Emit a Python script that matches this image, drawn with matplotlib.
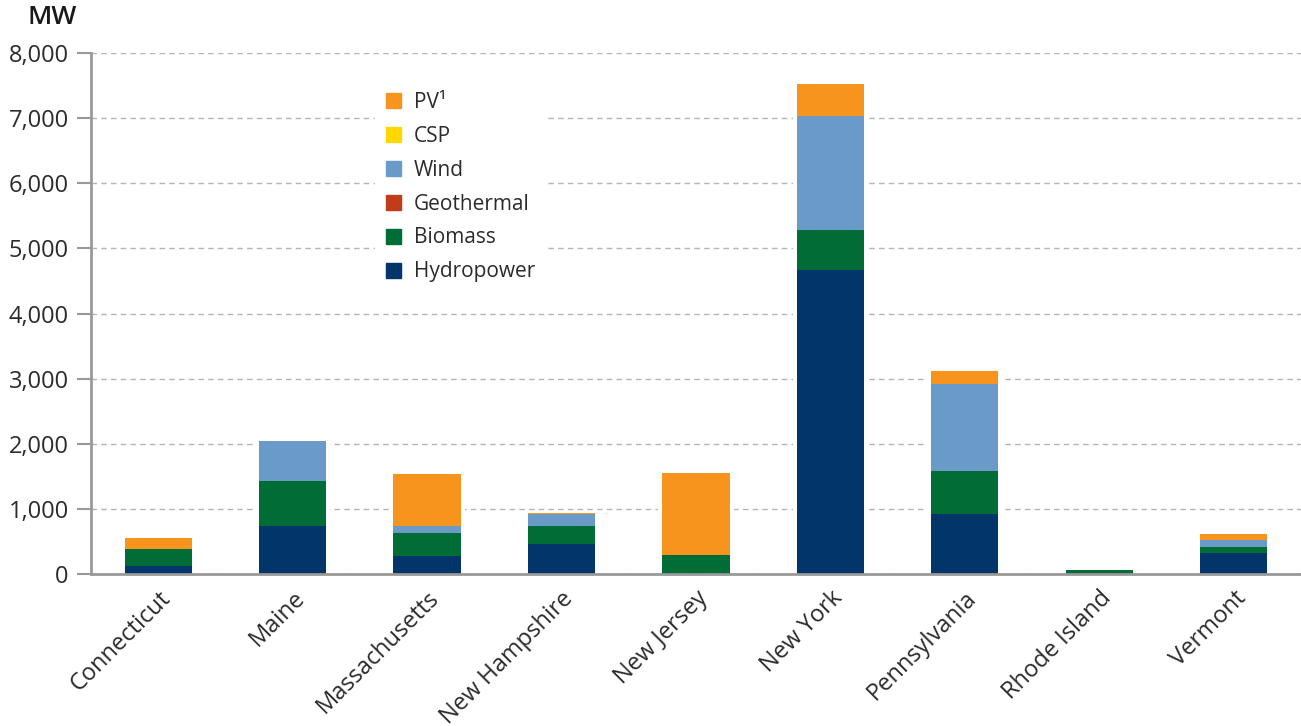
import matplotlib.pyplot as plt
from matplotlib.patches import Patch
import numpy as np

plt.rcParams['font.family'] = ['Open Sans', 'DejaVu Sans']

# Installed capacity by state (MW)
states = ['Connecticut', 'Maine', 'Massachusetts', 'New Hampshire', 'New Jersey',
          'New York', 'Pennsylvania', 'Rhode Island', 'Vermont']
hydro = [123, 738, 277, 462, 15, 4670, 923, 10, 323]
biomass = [262, 693, 354, 276, 277, 614, 662, 50, 92]
geothermal = [0, 0, 0, 0, 0, 0, 0, 0, 0]
wind = [0, 615, 107, 185, 0, 1756, 1333, 0, 113]
csp = [0, 0, 0, 0, 0, 0, 0, 0, 0]
pv = [169, 0, 800, 15, 1262, 487, 200, 0, 87]

series = [('Hydropower', hydro, '#02366a'),
          ('Biomass', biomass, '#006d36'),
          ('Geothermal', geothermal, '#c23b1a'),
          ('Wind', wind, '#6a9bc8'),
          ('CSP', csp, '#ffd800'),
          ('PV¹', pv, '#f7941d')]

fig = plt.figure(figsize=(13.01, 7.26), dpi=100)
ax = fig.add_axes([91 / 1301, 152 / 726, 1210 / 1301, 521 / 726])

x = np.arange(len(states))
width = 0.5
total = np.sum([s[1] for s in series], axis=0)

# white backing so the grid stops a little short of each bar
ax.bar(x, total, width=width + 0.06, color='white', zorder=2)

bottom = np.zeros(len(states))
for name, vals, col in series:
    ax.bar(x, vals, width=width, bottom=bottom, color=col, zorder=3)
    bottom += np.array(vals)

ax.set_xlim(-0.5, 8.5)
ax.set_ylim(0, 8000)
ax.set_yticks(np.arange(0, 8001, 1000))
ax.set_yticklabels([f'{v:,}' for v in range(0, 8001, 1000)])
ax.yaxis.grid(True, linestyle=(0, (4, 3)), color='#b5b5b5', linewidth=1, zorder=1)
ax.set_axisbelow(True)

for side in ['top', 'right']:
    ax.spines[side].set_visible(False)
for side in ['left', 'bottom']:
    ax.spines[side].set_color('#999999')
    ax.spines[side].set_linewidth(2)
    ax.spines[side].set_zorder(4)

ax.tick_params(axis='y', length=10, width=1.5, color='#999999', pad=6,
               labelsize=17, labelcolor='#2b2b2b')
ax.tick_params(axis='x', length=0, pad=9, labelsize=17, labelcolor='#2b2b2b')
ax.set_xticks(x)
ax.set_xticklabels(states, rotation=45, ha='right', rotation_mode='anchor')

fig.text(28 / 1301, 1 - 17 / 726, 'MW', fontsize=19, fontweight='semibold',
         color='#1a1a1a', va='center', ha='left')

handles = [Patch(color=col, label=name) for name, vals, col in series[::-1]]
leg = ax.legend(handles=handles, loc='upper left', bbox_to_anchor=(274 / 1210, 1 - 18 / 521),
                frameon=True, fancybox=False, framealpha=1, edgecolor='white',
                fontsize=15, handlelength=0.75, handleheight=0.75, handletextpad=0.6,
                labelspacing=0.62, borderpad=0.5, labelcolor='#2b2b2b')
leg.set_zorder(5)

fig.savefig('out.png', dpi=100)
